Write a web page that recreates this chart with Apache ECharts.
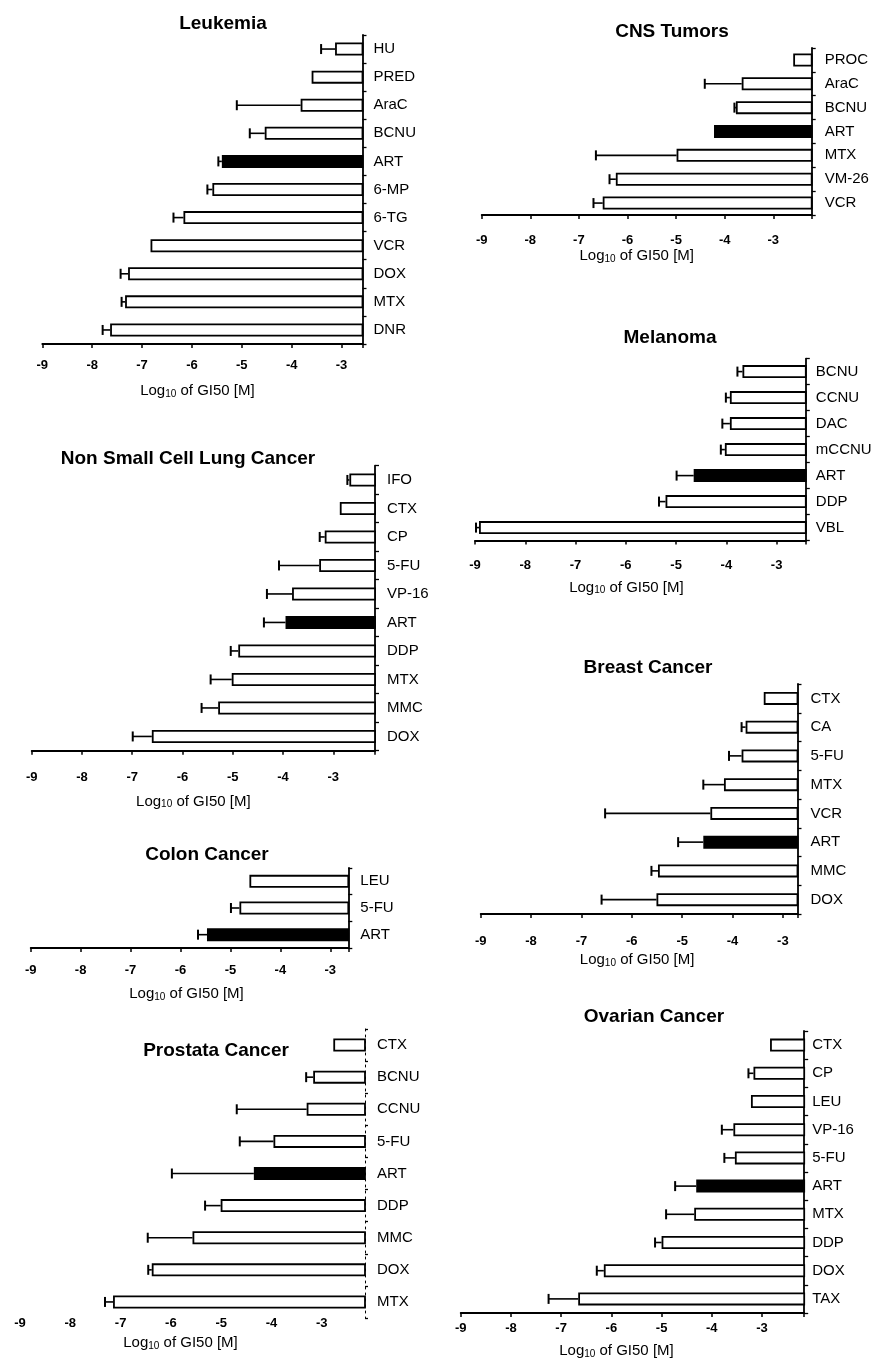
<!DOCTYPE html>
<html>
<head>
<meta charset="utf-8">
<script src="https://cdn.jsdelivr.net/npm/echarts@6/dist/echarts.min.js"></script>
<style>
html,body{margin:0;padding:0;background:#fff;}
#chart{width:878px;height:1360px;}
</style>
</head>
<body>
<div id="chart"></div>
<script>
// ---------------- DATA (log10 GI50 [M]) ----------------
const xTickLabels = [-9, -8, -7, -6, -5, -4, -3];

const leukCats = ['HU','PRED','AraC','BCNU','ART','6-MP','6-TG','VCR','DOX','MTX','DNR'];
const leukVals = [-3.13,-3.60,-3.82,-4.54,-5.40,-5.59,-6.17,-6.83,-7.28,-7.34,-7.64];
const leukErr  = [-3.41,null,-5.10,-4.84,-5.47,-5.69,-6.37,null,-7.43,-7.41,-7.79];

const cnsCats = ['PROC','AraC','BCNU','ART','MTX','VM-26','VCR'];
const cnsVals = [-2.59,-3.65,-3.77,-4.22,-4.99,-6.24,-6.51];
const cnsErr  = [null,-4.41,-3.80,null,-6.65,-6.37,-6.70];

const melCats = ['BCNU','CCNU','DAC','mCCNU','ART','DDP','VBL'];
const melVals = [-3.68,-3.93,-3.93,-4.03,-4.65,-5.21,-8.92];
const melErr  = [-3.78,-4.01,-4.08,-4.11,-4.99,-5.34,-8.98];

const lungCats = ['IFO','CTX','CP','5-FU','VP-16','ART','DDP','MTX','MMC','DOX'];
const lungVals = [-2.68,-2.87,-3.17,-3.28,-3.82,-3.95,-4.89,-5.02,-5.29,-6.61];
const lungErr  = [-2.72,null,-3.27,-4.08,-4.32,-4.38,-5.04,-5.44,-5.62,-6.99];

const breastCats = ['CTX','CA','5-FU','MTX','VCR','ART','MMC','DOX'];
const breastVals = [-3.38,-3.74,-3.82,-4.17,-4.44,-4.58,-5.48,-5.51];
const breastErr  = [null,-3.82,-4.07,-4.58,-6.53,-5.08,-5.61,-6.60];

const colonCats = ['LEU','5-FU','ART'];
const colonVals = [-4.62,-4.82,-5.47];
const colonErr  = [null,-4.99,-5.65];

const prosCats = ['CTX','BCNU','CCNU','5-FU','ART','DDP','MMC','DOX','MTX'];
const prosVals = [-2.77,-3.17,-3.30,-3.96,-4.35,-5.01,-5.57,-6.38,-7.15];
const prosErr  = [null,-3.31,-4.69,-4.63,-5.98,-5.32,-6.46,-6.45,-7.31];

const ovCats = ['CTX','CP','LEU','VP-16','5-FU','ART','MTX','DDP','DOX','TAX'];
const ovVals = [-2.84,-3.17,-3.22,-3.57,-3.54,-4.31,-4.35,-5.00,-6.15,-6.66];
const ovErr  = [null,-3.27,null,-3.80,-3.75,-4.73,-4.91,-5.13,-6.29,-7.25];

const highlight = 'ART';

// ---------------- LAYOUT ----------------
const FONT = '"Liberation Sans", Arial, Helvetica, sans-serif';
const panels = [
  {title:'Leukemia', cats:leukCats, vals:leukVals, err:leukErr,
   grid:{left:42.3, top:35, width:320.2, height:309}, xMax:-2.58,
   tx:223, ty:25, lblMargin:15, nameGap:39, nameShift:5, catMargin:11},
  {title:'CNS Tumors', cats:cnsCats, vals:cnsVals, err:cnsErr,
   grid:{left:481.7, top:48, width:330, height:167}, xMax:-2.21,
   tx:672, ty:33, lblMargin:19, nameGap:33, nameShift:10, catMargin:13},
  {title:'Melanoma', cats:melCats, vals:melVals, err:melErr,
   grid:{left:475, top:358.6, width:330.8, height:182}, xMax:-2.42,
   tx:670, ty:339, lblMargin:18, nameGap:39, nameShift:14, catMargin:10},
  {title:'Non Small Cell Lung Cancer', cats:lungCats, vals:lungVals, err:lungErr,
   grid:{left:31.7, top:465.7, width:343.3, height:285}, xMax:-2.17,
   tx:188, ty:460, lblMargin:20, nameGap:43, nameShift:10, catMargin:12},
  {title:'Breast Cancer', cats:breastCats, vals:breastVals, err:breastErr,
   grid:{left:480.7, top:684, width:316.8, height:230}, xMax:-2.71,
   tx:648, ty:669, lblMargin:21, nameGap:38, nameShift:2, catMargin:13},
  {title:'Colon Cancer', cats:colonCats, vals:colonVals, err:colonErr,
   grid:{left:30.7, top:868, width:317.6, height:80}, xMax:-2.64,
   tx:207, ty:856, lblMargin:16, nameGap:38, nameShift:3, catMargin:12},
  {title:'Prostata Cancer', cats:prosCats, vals:prosVals, err:prosErr,
   grid:{left:20, top:1029, width:345, height:289}, xMax:-2.14,
   tx:216, ty:1052, lblMargin:-1, nameGap:17, nameShift:12, catMargin:12, noXLine:true, dottedY:true},
  {title:'Ovarian Cancer', cats:ovCats, vals:ovVals, err:ovErr,
   grid:{left:460.7, top:1031, width:343.5, height:283}, xMax:-2.16,
   tx:654, ty:1018, lblMargin:9, nameGap:30, nameShift:16, catMargin:8}
];

function renderErr(params, api) {
  const barEnd = api.coord([api.value(1), api.value(2)]);
  const errEnd = api.coord([api.value(0), api.value(2)]);
  const h = 10;
  return {
    type: 'group',
    children: [
      {type:'line', shape:{x1:errEnd[0], y1:errEnd[1], x2:barEnd[0], y2:barEnd[1]},
       style:{stroke:'#000', lineWidth:1.6}},
      {type:'line', shape:{x1:errEnd[0], y1:errEnd[1]-h/2, x2:errEnd[0], y2:errEnd[1]+h/2},
       style:{stroke:'#000', lineWidth:2}}
    ]
  };
}

const option = {
  backgroundColor:'#fff',
  animation:false,
  title:[], grid:[], xAxis:[], yAxis:[], series:[]
};

panels.forEach((p, i) => {
  option.title.push({
    text:p.title, left:p.tx, top:p.ty - 11, textAlign:'center', padding:0,
    textStyle:{fontFamily:FONT, fontWeight:'bold', fontSize:19, color:'#000'}
  });
  option.grid.push({left:p.grid.left, top:p.grid.top, width:p.grid.width, height:p.grid.height, containLabel:false});
  option.xAxis.push({
    gridIndex:i, type:'value', min:xTickLabels[0], max:p.xMax, interval:1,
    axisLine:{show:!p.noXLine, lineStyle:{color:'#000', width:1.8}},
    axisTick:{show:!p.noXLine, length:4, lineStyle:{color:'#000', width:1.5}},
    splitLine:{show:false},
    axisLabel:{
      margin:p.lblMargin, fontFamily:FONT, fontSize:13, fontWeight:'bold', color:'#000',
      showMaxLabel:true,
      formatter:v => (Math.abs(v - Math.round(v)) < 1e-6 && xTickLabels.indexOf(Math.round(v)) >= 0) ? String(Math.round(v)) : ''
    },
    name:'Log{sub|10} of GI50 [M]', nameLocation:'middle', nameGap:p.nameGap,
    nameTextStyle:{fontFamily:FONT, fontSize:15, color:'#000', padding:[0, 2*p.nameShift, 0, 0],
      rich:{sub:{fontFamily:FONT, fontSize:10, color:'#000', verticalAlign:'bottom', padding:[6,0,0,0]}}}
  });
  option.yAxis.push({
    gridIndex:i, type:'category', position:'right', inverse:true, data:p.cats,
    axisLine:{show:true, lineStyle:{color:'#000', width:p.dottedY ? 1 : 1.8, type:p.dottedY ? [2,4] : 'solid'}},
    axisTick:{show:true, length:p.dottedY ? 3 : 4, lineStyle:{color:'#000', width:1.3}},
    axisLabel:{margin:p.catMargin, fontFamily:FONT, fontSize:15, color:'#000'},
    splitLine:{show:false}
  });
  option.series.push({
    type:'bar', xAxisIndex:i, yAxisIndex:i, clip:true, barWidth:13,
    data:p.vals.map((v, k) => ({
      value:v,
      itemStyle:{color: p.cats[k] === highlight ? '#000' : '#fff', borderColor:'#000', borderWidth:1.8}
    })),
    emphasis:{disabled:true}, silent:true
  });
  const errData = [];
  p.err.forEach((e, k) => { if (e !== null) errData.push([e, p.vals[k], k]); });
  option.series.push({
    type:'custom', xAxisIndex:i, yAxisIndex:i, renderItem:renderErr,
    encode:{x:[0,1], y:2}, data:errData, silent:true, z:3
  });
});

const chart = echarts.init(document.getElementById('chart'), null, {renderer:'canvas', width:878, height:1360});
chart.setOption(option);
</script>
</body>
</html>
